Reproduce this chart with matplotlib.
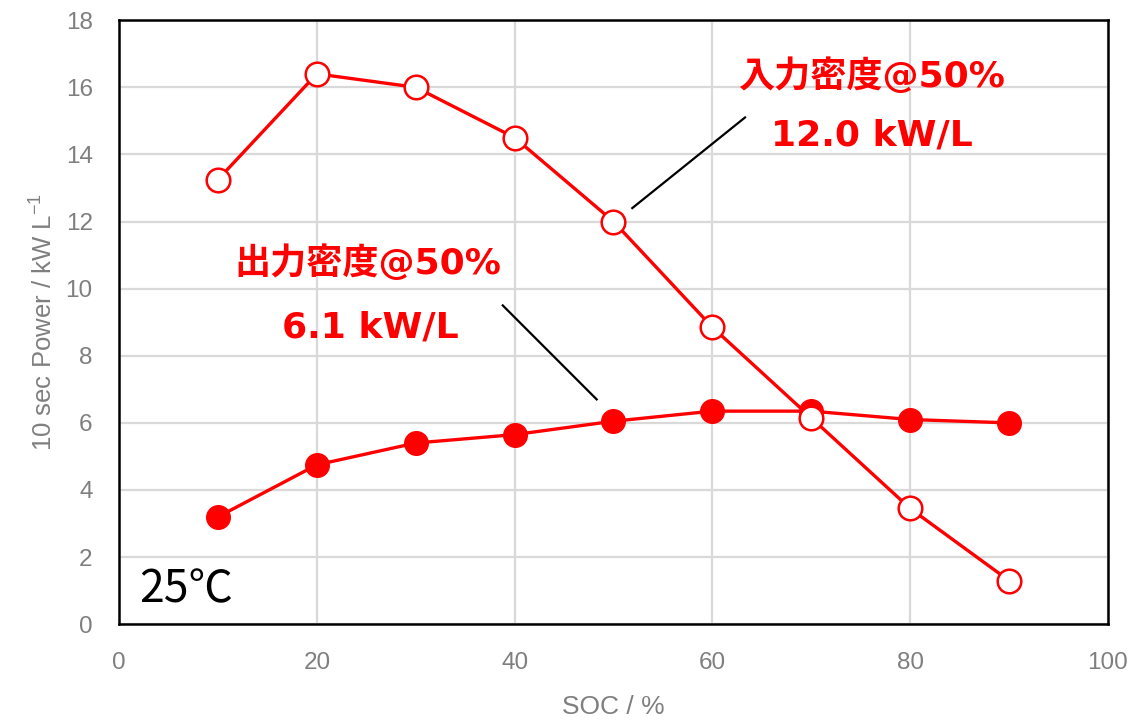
import matplotlib
matplotlib.use("Agg")
import matplotlib.pyplot as plt

soc = [10, 20, 30, 40, 50, 60, 70, 80, 90]
input_density = [13.25, 16.4, 16.0, 14.5, 12.0, 8.85, 6.15, 3.45, 1.3]
output_density = [3.2, 4.75, 5.4, 5.65, 6.05, 6.35, 6.35, 6.1, 6.0]
x_ticks = [0, 20, 40, 60, 80, 100]
y_ticks = [0, 2, 4, 6, 8, 10, 12, 14, 16, 18]

lat = 'Liberation Sans'
plt.rcParams['font.family'] = ['Noto Sans CJK JP', 'DejaVu Sans']
plt.rcParams['mathtext.fontset'] = 'custom'
plt.rcParams['mathtext.rm'] = lat
plt.rcParams['mathtext.it'] = lat

red = '#FF0000'
gray = '#7F7F7F'
ann_family = ['DejaVu Sans', 'Noto Sans CJK JP']

fig = plt.figure(figsize=(11.34, 7.2), dpi=100)
ax = fig.add_axes([0.105, 0.133, 0.872, 0.839])

ax.plot(soc, output_density, color=red, lw=2.4, marker='o', ms=17,
        mfc=red, mec=red, zorder=3)
ax.plot(soc, input_density, color=red, lw=2.4, marker='o', ms=17,
        mfc='white', mec=red, mew=1.8, zorder=4)

# leader lines
ax.plot([51.9, 63.3], [12.4, 15.1], color='black', lw=1.6, zorder=2)
ax.plot([38.8, 48.3], [9.5, 6.7], color='black', lw=1.6, zorder=2)

ax.text(76.1, 16.36, '入力密度@50%', color=red, fontsize=26, fontweight='bold',
        family=ann_family, ha='center', va='center')
ax.text(76.1, 14.57, '12.0 kW/L', color=red, fontsize=26, fontweight='bold',
        family=ann_family, ha='center', va='center')
ax.text(25.2, 10.76, '出力密度@50%', color=red, fontsize=26, fontweight='bold',
        family=ann_family, ha='center', va='center')
ax.text(25.4, 8.85, '6.1 kW/L', color=red, fontsize=26, fontweight='bold',
        family=ann_family, ha='center', va='center')
ax.text(2.0, 1.05, '25℃', color='black', fontsize=32, ha='left', va='center')

ax.set_xlim(0, 100)
ax.set_ylim(0, 18)
ax.set_xticks(x_ticks)
ax.set_yticks(y_ticks)
ax.set_xticklabels([str(v) for v in x_ticks], family=lat, fontsize=17.5, color=gray)
ax.set_yticklabels([str(v) for v in y_ticks], family=lat, fontsize=17.5, color=gray)
ax.tick_params(axis='both', length=0)
ax.tick_params(axis='x', pad=20)
ax.tick_params(axis='y', pad=19)
ax.grid(True, color='#D9D9D9', lw=1.6)
ax.set_axisbelow(True)
for s in ax.spines.values():
    s.set_color('black')
    s.set_linewidth(1.8)

ax.set_xlabel('SOC / %', family=lat, fontsize=19, color=gray, labelpad=15)
ax.set_ylabel('10 sec Power / kW L$^{-1}$', family=lat, fontsize=18.5, color=gray, labelpad=6)

fig.savefig('out.png', dpi=100)
